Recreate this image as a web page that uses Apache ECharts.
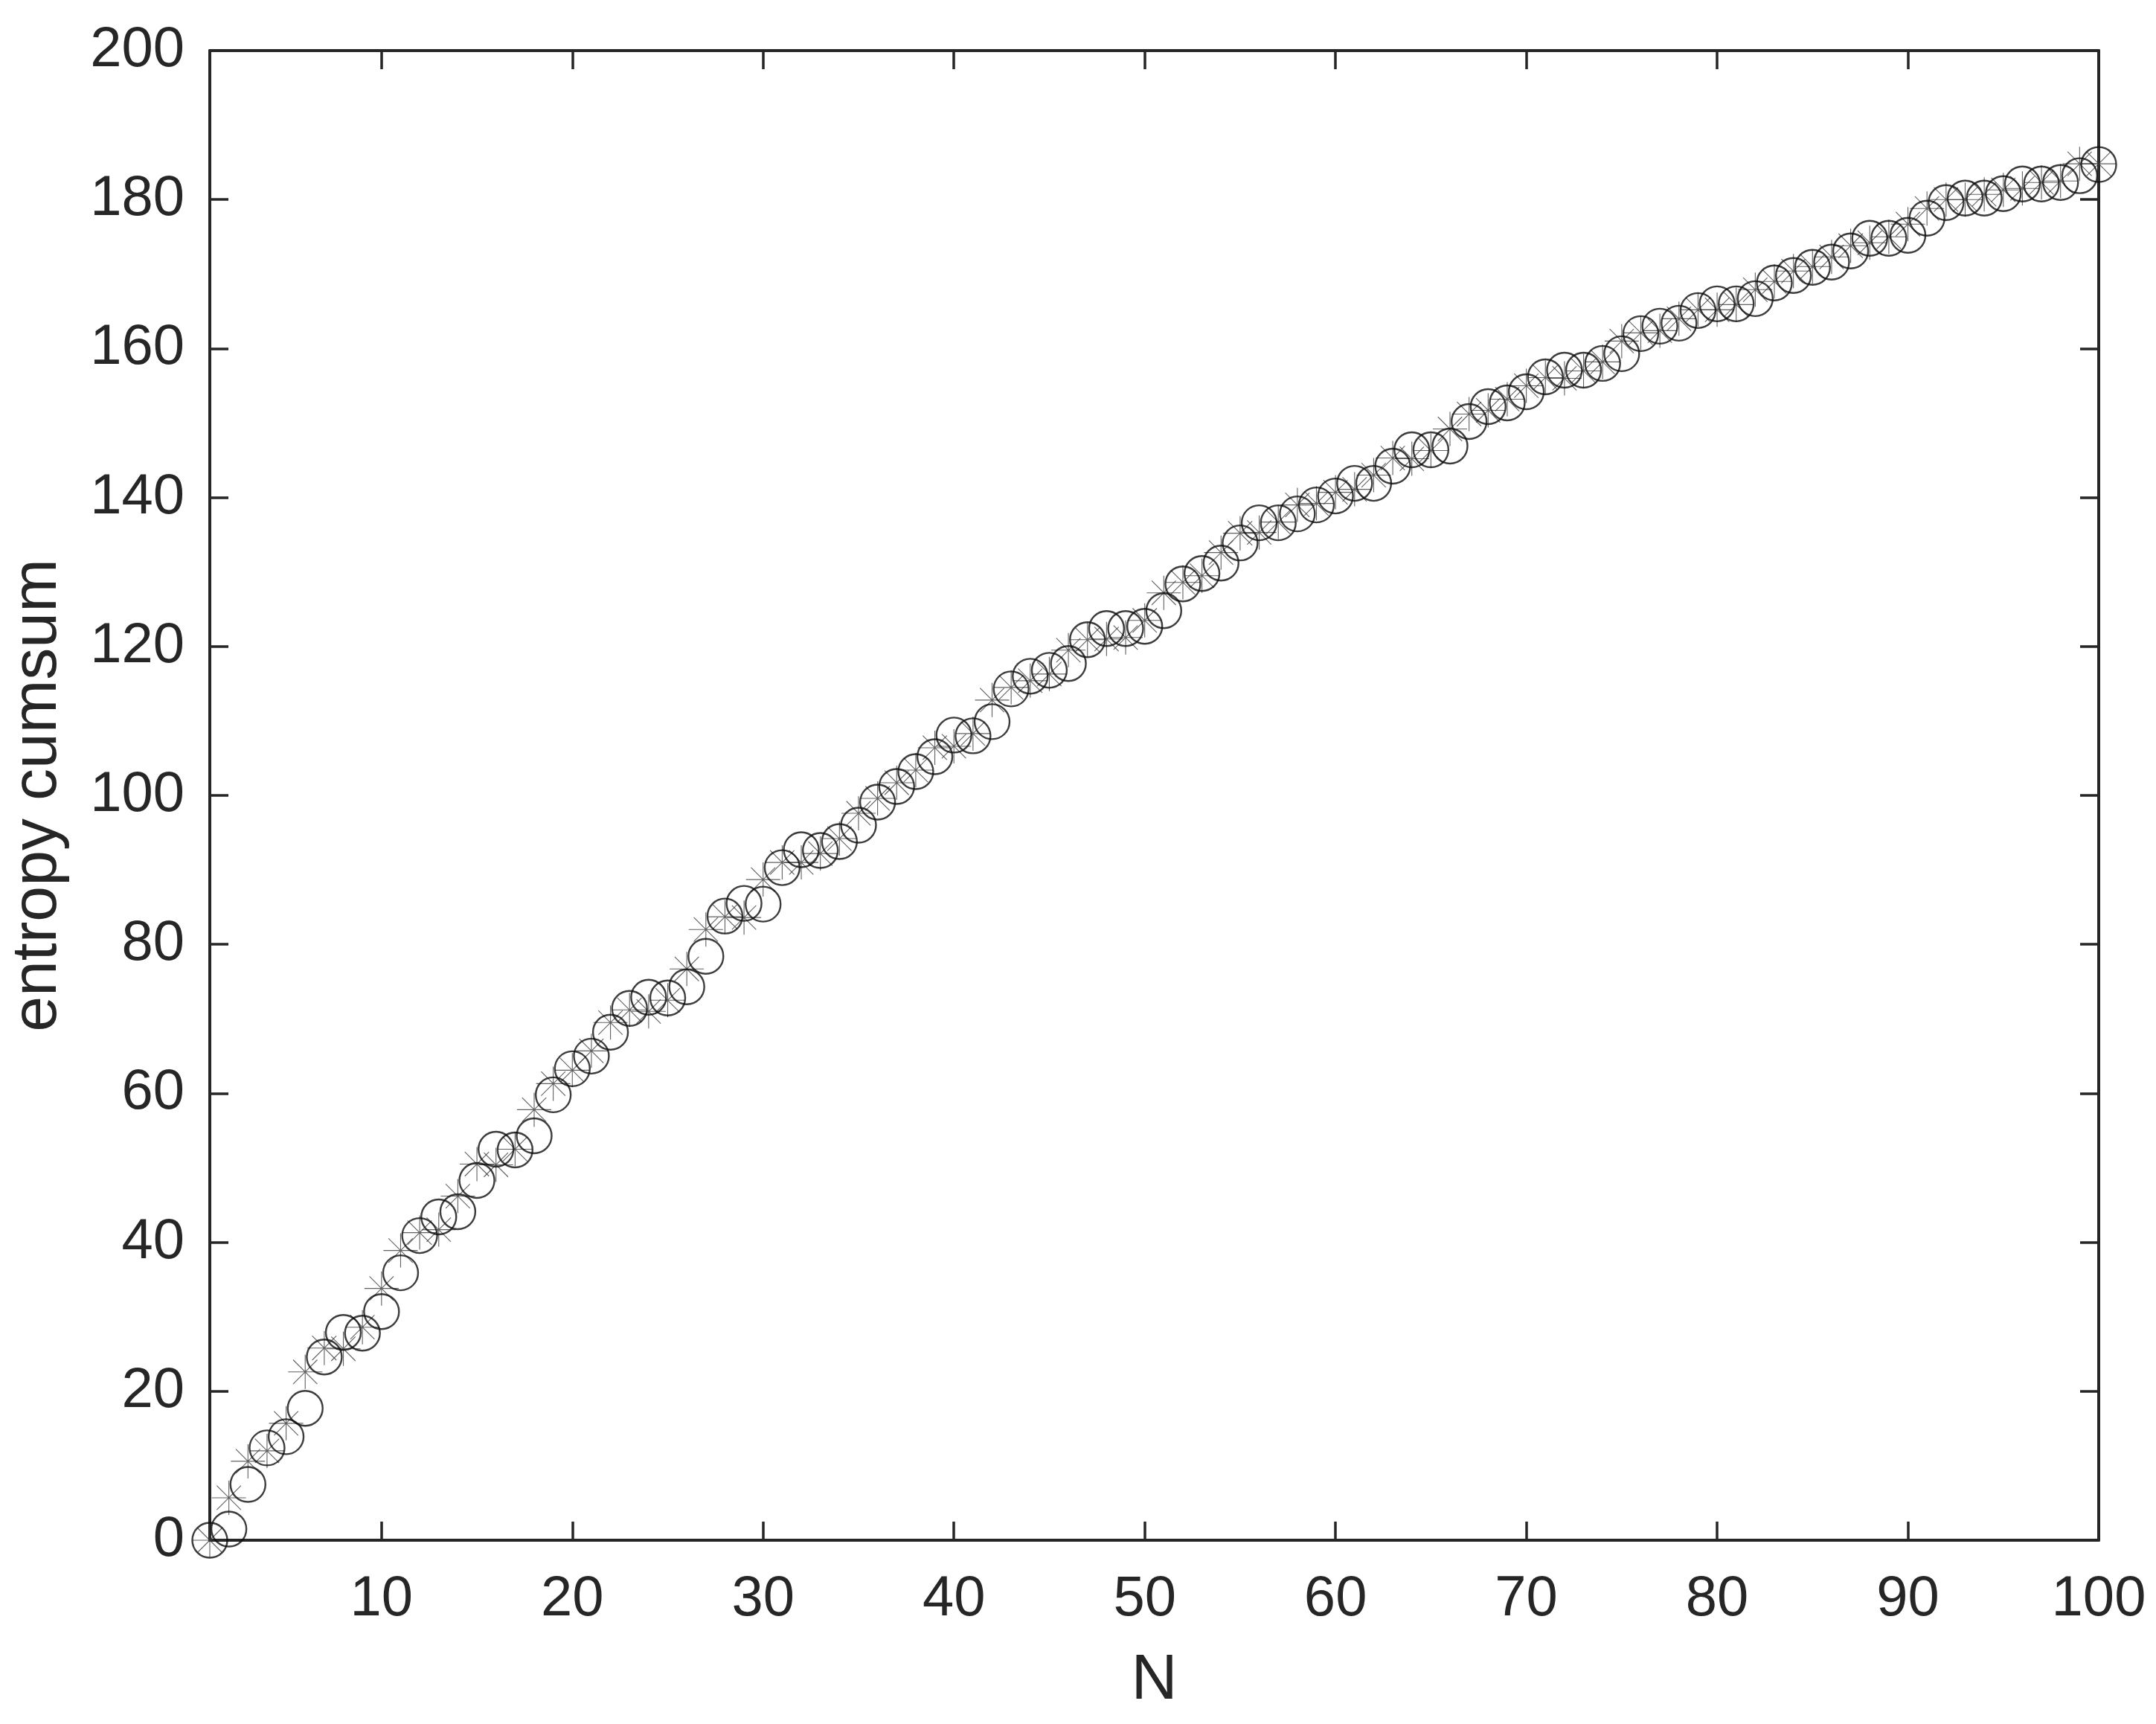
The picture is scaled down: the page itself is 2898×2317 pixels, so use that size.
<!DOCTYPE html>
<html>
<head>
<meta charset="utf-8">
<script src="https://cdn.jsdelivr.net/npm/echarts@6/dist/echarts.min.js"></script>
<style>
html,body{margin:0;padding:0;background:#fff;}
#chart{width:2898px;height:2317px;}
</style>
</head>
<body>
<div id="chart"></div>
<script>
// Category positions N = 1..100
var N = Array.from({length: 100}, function (_, i) { return i + 1; });

// Circle markers (entropy cumsum, measured)
var circleValues = [
  0, 1.5, 7.5, 12.4, 13.9, 17.7, 24.6, 27.9, 27.8, 30.7,
  35.9, 40.9, 43.4, 44.1, 48.3, 52.5, 52.4, 54.3, 59.8, 63.3,
  65.0, 68.2, 71.4, 72.9, 72.8, 74.3, 78.4, 83.8, 85.5, 85.4,
  90.3, 92.7, 92.6, 93.8, 96.0, 99.1, 101.2, 103.2, 105.2, 108.1,
  108.0, 109.9, 114.3, 116.0, 116.8, 117.7, 120.9, 122.4, 122.4, 122.7,
  124.8, 128.4, 129.8, 131.2, 133.9, 136.6, 136.6, 137.8, 139.0, 140.2,
  141.9, 141.9, 144.2, 146.4, 146.4, 146.9, 150.2, 152.2, 152.7, 154.2,
  156.2, 157.1, 157.1, 158.0, 159.3, 162.0, 163.0, 163.4, 165.1, 166.0,
  166.0, 166.7, 168.8, 169.8, 170.9, 171.6, 173.1, 174.8, 174.8, 175.2,
  177.5, 179.6, 180.2, 180.2, 180.8, 182.1, 182.1, 182.3, 183.2, 184.7
];

// Asterisk markers
var starValues = [
  0, 5.7, 10.6, 12.0, 15.7, 22.6, 25.8, 25.7, 28.6, 33.8,
  38.9, 41.3, 41.7, 46.2, 50.5, 50.4, 52.5, 57.8, 61.3, 63.1,
  65.7, 69.5, 71.2, 71.0, 72.5, 76.7, 82.0, 83.7, 83.6, 88.7,
  91.0, 91.0, 92.2, 94.2, 97.6, 99.6, 101.7, 103.4, 106.4, 106.6,
  108.3, 112.8, 114.5, 115.4, 116.3, 119.5, 120.9, 121.0, 121.2, 123.5,
  127.2, 128.6, 129.5, 132.6, 135.2, 135.3, 136.7, 139.0, 139.2, 140.7,
  141.1, 143.0, 145.3, 145.2, 146.3, 149.2, 151.2, 151.7, 153.2, 155.0,
  156.1, 156.0, 157.0, 158.2, 161.0, 162.1, 162.4, 164.0, 165.2, 165.2,
  165.9, 167.9, 169.0, 170.4, 171.0, 172.3, 173.8, 174.2, 175.0, 176.7,
  178.8, 180.0, 180.0, 180.7, 181.3, 181.5, 182.3, 182.5, 184.8, 184.8
];

var xTicks = [10, 20, 30, 40, 50, 60, 70, 80, 90, 100];
var yTicks = [0, 20, 40, 60, 80, 100, 120, 140, 160, 180, 200];

var xName = 'N';
var yName = 'entropy cumsum';

var FONT = '"Liberation Sans", Arial, Helvetica, sans-serif';
var AX = '#262626';

function pairs(vals) { return N.map(function (n, i) { return [n, vals[i]]; }); }

var chart = echarts.init(document.getElementById('chart'), null, {renderer: 'canvas'});

var axisLine = {show: true, onZero: false, lineStyle: {color: AX, width: 4}};
var tickStyle = {color: AX, width: 3.5};

chart.setOption({
  animation: false,
  backgroundColor: '#fff',
  grid: {left: 281, right: 77, top: 68, bottom: 247, containLabel: false},
  xAxis: [
    {
      type: 'value', position: 'bottom', min: 1, max: 100,
      axisLine: axisLine,
      axisTick: {show: true, inside: true, length: 25, lineStyle: tickStyle, customValues: xTicks},
      axisLabel: {show: true, customValues: xTicks, fontSize: 76, margin: 42, color: AX, fontFamily: FONT},
      splitLine: {show: false},
      name: xName, nameLocation: 'middle', nameGap: 146,
      nameTextStyle: {fontSize: 86, color: AX, fontFamily: FONT}
    },
    {
      type: 'value', position: 'top', min: 1, max: 100,
      axisLine: axisLine,
      axisTick: {show: true, inside: true, length: 25, lineStyle: tickStyle, customValues: xTicks},
      axisLabel: {show: false},
      splitLine: {show: false}
    }
  ],
  yAxis: [
    {
      type: 'value', position: 'left', min: 0, max: 200, interval: 20,
      axisLine: axisLine,
      axisTick: {show: true, inside: true, length: 25, lineStyle: tickStyle},
      axisLabel: {show: true, fontSize: 76, margin: 34, color: AX, fontFamily: FONT},
      splitLine: {show: false},
      name: yName, nameLocation: 'middle', nameGap: 188, nameRotate: 90,
      nameTextStyle: {fontSize: 86, color: AX, fontFamily: FONT}
    },
    {
      type: 'value', position: 'right', min: 0, max: 200, interval: 20,
      axisLine: axisLine,
      axisTick: {show: true, inside: true, length: 25, lineStyle: tickStyle},
      axisLabel: {show: false},
      splitLine: {show: false}
    }
  ],
  series: [
    {
      type: 'scatter', xAxisIndex: 0, yAxisIndex: 0,
      data: pairs(starValues),
      symbol: 'path://M0,-1L0,1M-1,0L1,0M-0.707,-0.707L0.707,0.707M-0.707,0.707L0.707,-0.707',
      symbolSize: 46,
      itemStyle: {color: 'transparent', borderColor: '#3a3a3a', borderWidth: 1.1},
      emphasis: {disabled: true},
      clip: false
    },
    {
      type: 'scatter', xAxisIndex: 0, yAxisIndex: 0,
      data: pairs(circleValues),
      symbol: 'circle',
      symbolSize: 47,
      itemStyle: {color: 'transparent', borderColor: '#0d0d0d', borderWidth: 2.4},
      emphasis: {disabled: true},
      clip: false
    }
  ]
});
</script>
</body>
</html>
